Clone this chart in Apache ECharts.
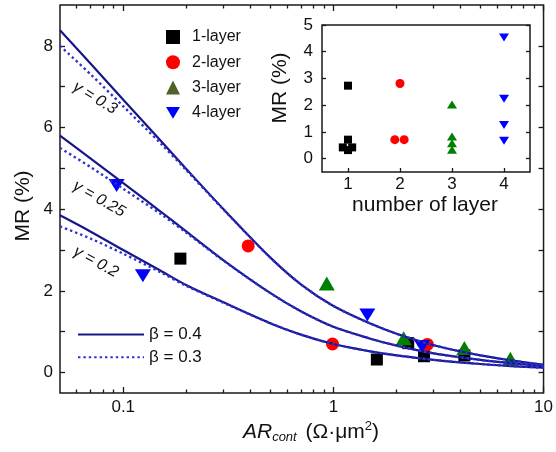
<!DOCTYPE html>
<html><head><meta charset="utf-8">
<script src="https://cdn.jsdelivr.net/npm/echarts@6/dist/echarts.min.js"></script>
<style>html,body{margin:0;padding:0;background:#fff}#c{width:556px;height:452px}</style>
</head><body><div id="c"></div>
<script>
// ---- curve data ----
const curveX   = [0.05,0.07,0.1,0.15,0.2,0.3,0.5,0.7,1,1.5,2,3,5,7,10];
const g03_b04  = [8.38,7.56,6.68,5.69,4.98,4.00,2.82,2.16,1.63,1.20,0.95,0.67,0.42,0.30,0.19];
const g03_b03  = [8.00,7.30,6.52,5.62,4.95,3.99,2.82,2.16,1.63,1.20,0.95,0.67,0.42,0.30,0.19];
const g025_b04 = [5.80,5.24,4.64,3.95,3.45,2.75,1.95,1.50,1.12,0.83,0.66,0.47,0.31,0.23,0.16];
const g025_b03 = [5.50,5.03,4.50,3.89,3.42,2.74,1.95,1.50,1.12,0.83,0.66,0.47,0.31,0.23,0.16];
const g02_b04  = [3.85,3.45,3.00,2.50,2.14,1.72,1.21,0.93,0.70,0.52,0.42,0.31,0.21,0.16,0.12];
const g02_b03  = [3.58,3.28,2.91,2.46,2.12,1.71,1.21,0.93,0.70,0.52,0.42,0.31,0.21,0.16,0.12];

// ---- main scatter data ----
const l1X = [0.187,1.61,2.27,2.70,4.2];   const l1Y = [2.79,0.32,0.72,0.40,0.42];
const l2X = [0.393,0.99,2.80];            const l2Y = [3.10,0.70,0.69];
const l3X = [0.93,2.16,4.2,6.95];         const l3Y = [2.18,0.84,0.60,0.34];
const l4X = [0.093,0.124,1.45,2.64];      const l4Y = [4.58,2.37,1.41,0.64];

// ---- inset data ----
const i1X = [1,1,0.9,1.08,1.0];   const i1Y = [2.73,0.71,0.42,0.42,0.32];
const i2X = [2.0,1.9,2.08];       const i2Y = [2.81,0.71,0.71];
const i3X = [3,3,3,3];            const i3Y = [2.03,0.83,0.58,0.33];
const i4X = [4,4,4,4];            const i4Y = [4.53,2.24,1.26,0.67];

// ---- ticks / labels ----
const xMajor = [0.1,1,10];
const xMajorLabels = ['0.1','1','10'];
const xMinor = [0.06,0.07,0.08,0.09,0.2,0.3,0.4,0.5,0.6,0.7,0.8,0.9,2,3,4,5,6,7,8,9];
const yTicks = [0,1,2,3,4,5,6,7,8];
const yLabels = [0,2,4,6,8];
const insetXTicks = [1,2,3,4];
const insetYTicks = [0,1,2,3,4,5];
const layerNames = ['1-layer','2-layer','3-layer','4-layer'];

const FONT = 'Liberation Sans, Arial, sans-serif';
const AX = '#1a1a1a';
const invTri = 'path://M0,0L20,0L10,17Z';
const zip = (xs, ys) => xs.map((x, i) => [x, ys[i]]);
const lg = v => Math.log10(v);

const chart = echarts.init(document.getElementById('c'), null, {renderer: 'canvas'});

function tickOnlyX(gridIndex, pos, ticks, len, labels) {
  return {
    type: 'value', gridIndex, position: pos, min: lg(0.05), max: 1,
    axisLine: {show: false, onZero: false},
    axisTick: {show: true, inside: true, length: len, customValues: ticks.map(lg), lineStyle: {color: AX, width: 1.3}},
    axisLabel: labels ? {show: true, customValues: ticks.map(lg), margin: 6, fontSize: 17, fontFamily: FONT, color: '#111',
      formatter: v => { const i = ticks.findIndex(t => Math.abs(lg(t) - v) < 1e-6); return i >= 0 ? labels[i] : ''; }} : {show: false},
    splitLine: {show: false}
  };
}

const solidStyle = {color: '#16168a', width: 2.2};
const dotStyle = {color: '#3030d0', width: 2.4, type: [2.4, 3]};
function curve(name, ys, style) {
  return {type: 'line', name, xAxisIndex: 0, yAxisIndex: 0, data: zip(curveX, ys), symbol: 'none', showSymbol: false,
    smooth: 0.3, lineStyle: style, itemStyle: {color: style.color}, z: 5, silent: true};
}
const sc = (name, xi, yi, xs, ys, symbol, size, color) => ({
  type: 'scatter', name, xAxisIndex: xi, yAxisIndex: yi, data: zip(xs, ys), symbol, symbolSize: size,
  itemStyle: {color, opacity: 1}, z: 2, silent: true
});

const option = {
  animation: false,
  backgroundColor: '#fff',
  textStyle: {fontFamily: FONT},
  grid: [
    {left: 60, right: 11, top: 5, bottom: 59, show: true, borderColor: AX, borderWidth: 1.5, backgroundColor: 'transparent'},
    {left: 322, right: 26, top: 25, bottom: 280, show: true, borderColor: AX, borderWidth: 1.5, backgroundColor: 'transparent'}
  ],
  xAxis: [
    {type: 'log', logBase: 10, gridIndex: 0, min: 0.05, max: 10, position: 'bottom',
      axisLine: {show: false, onZero: false}, axisTick: {show: false}, axisLabel: {show: false}, splitLine: {show: false}},
    tickOnlyX(0, 'bottom', xMajor, 6, xMajorLabels),
    tickOnlyX(0, 'bottom', xMinor, 3.5, null),
    tickOnlyX(0, 'top', xMajor, 6, null),
    tickOnlyX(0, 'top', xMinor, 3.5, null),
    {type: 'value', gridIndex: 1, min: 0.5, max: 4.5, position: 'bottom',
      axisLine: {show: false, onZero: false},
      axisTick: {inside: true, length: 4, customValues: insetXTicks, lineStyle: {color: AX, width: 1.3}},
      axisLabel: {customValues: insetXTicks, margin: 4, fontSize: 17, fontFamily: FONT, color: '#111'},
      splitLine: {show: false}}
  ],
  yAxis: [
    {type: 'value', gridIndex: 0, min: -0.5, max: 9, position: 'left',
      axisLine: {show: false, onZero: false},
      axisTick: {inside: true, length: 5, customValues: yTicks, lineStyle: {color: AX, width: 1.3}},
      axisLabel: {customValues: yLabels, margin: 7, fontSize: 17, fontFamily: FONT, color: '#111'},
      splitLine: {show: false}},
    {type: 'value', gridIndex: 0, min: -0.5, max: 9, position: 'right',
      axisLine: {show: false, onZero: false},
      axisTick: {inside: true, length: 5, customValues: yTicks, lineStyle: {color: AX, width: 1.3}},
      axisLabel: {show: false}, splitLine: {show: false}},
    {type: 'value', gridIndex: 1, min: -0.5, max: 5, position: 'left',
      axisLine: {show: false, onZero: false},
      axisTick: {inside: true, length: 4, customValues: insetYTicks, lineStyle: {color: AX, width: 1.3}},
      axisLabel: {customValues: insetYTicks, margin: 9, fontSize: 17, fontFamily: FONT, color: '#111'},
      splitLine: {show: false}},
    {type: 'value', gridIndex: 1, min: -0.5, max: 5, position: 'right',
      axisLine: {show: false, onZero: false},
      axisTick: {inside: true, length: 4, customValues: insetYTicks, lineStyle: {color: AX, width: 1.3}},
      axisLabel: {show: false}, splitLine: {show: false}}
  ],
  legend: [
    {orient: 'vertical', left: 166, top: 29, itemWidth: 14, itemHeight: 14, itemGap: 9.3, padding: 0,
      selectedMode: false,
      textStyle: {fontSize: 16, fontFamily: FONT, color: '#111', padding: [0, 0, 0, 7]},
      data: [
        {name: layerNames[0], icon: 'rect', itemStyle: {color: '#000', opacity: 1}},
        {name: layerNames[1], icon: 'circle', itemStyle: {color: '#ff0000', opacity: 1}},
        {name: layerNames[2], icon: 'triangle', itemStyle: {color: '#4f6228', opacity: 1}},
        {name: layerNames[3], icon: invTri, itemStyle: {color: '#0000ff', opacity: 1}}
      ]},
    {orient: 'vertical', left: 77, top: 326, itemWidth: 66, itemHeight: 14, itemGap: 5.7, padding: 0,
      selectedMode: false,
      textStyle: {fontSize: 17, fontFamily: FONT, color: '#111'},
      data: [{name: 'β = 0.4', itemStyle: {opacity: 0}}, {name: 'β = 0.3', itemStyle: {opacity: 0}}]}
  ],
  series: [
    sc(layerNames[0], 0, 0, l1X, l1Y, 'rect', 12, '#000'),
    sc(layerNames[1], 0, 0, l2X, l2Y, 'circle', 13, '#ff0000'),
    sc(layerNames[2], 0, 0, l3X, l3Y, 'triangle', [16, 14], '#008000'),
    sc(layerNames[3], 0, 0, l4X, l4Y, invTri, [16, 13], '#0000ff'),
    curve('β = 0.4', g03_b04, solidStyle),
    curve('β = 0.4', g025_b04, solidStyle),
    curve('β = 0.4', g02_b04, solidStyle),
    curve('β = 0.3', g03_b03, dotStyle),
    curve('β = 0.3', g025_b03, dotStyle),
    curve('β = 0.3', g02_b03, dotStyle),
    sc(layerNames[0], 5, 2, i1X, i1Y, 'rect', 8, '#000'),
    sc(layerNames[1], 5, 2, i2X, i2Y, 'circle', 9, '#ff0000'),
    sc(layerNames[2], 5, 2, i3X, i3Y, 'triangle', [10, 8], '#008000'),
    sc(layerNames[3], 5, 2, i4X, i4Y, invTri, [10, 8], '#0000ff')
  ],
  graphic: [
    {type: 'text', x: 23, y: 206, rotation: Math.PI / 2,
      style: {text: 'MR (%)', fontSize: 21, fontFamily: FONT, fill: '#111', align: 'center', verticalAlign: 'middle'}},
    {type: 'text', x: 280, y: 88, rotation: Math.PI / 2,
      style: {text: 'MR (%)', fontSize: 21, fontFamily: FONT, fill: '#111', align: 'center', verticalAlign: 'middle'}},
    {type: 'text', x: 425, y: 205,
      style: {text: 'number of layer', fontSize: 21, fontFamily: FONT, fill: '#111', align: 'center', verticalAlign: 'middle'}},
    {type: 'text', x: 311, y: 432,
      style: {
        text: '{i|AR}{s|cont}{n| (Ω·μm}{p|2}{n|)}',
        align: 'center', verticalAlign: 'middle', fontFamily: FONT, fill: '#111',
        rich: {
          i: {fontSize: 21, fontStyle: 'italic', fontFamily: FONT, fill: '#111', lineHeight: 24, verticalAlign: 'middle'},
          n: {fontSize: 21, fontFamily: FONT, fill: '#111', lineHeight: 24, verticalAlign: 'middle'},
          s: {fontSize: 13, fontStyle: 'italic', fontFamily: FONT, fill: '#111', lineHeight: 13, verticalAlign: 'bottom', padding: [0, 3, 0, 0]},
          p: {fontSize: 13, fontFamily: FONT, fill: '#111', lineHeight: 13, verticalAlign: 'top'}
        }
      }},
    {type: 'text', x: 95, y: 98, rotation: -0.55,
      style: {text: 'γ = 0.3', fontSize: 16, fontStyle: 'italic', fontFamily: FONT, fill: '#111', align: 'center', verticalAlign: 'middle'}},
    {type: 'text', x: 99, y: 199, rotation: -0.52,
      style: {text: 'γ = 0.25', fontSize: 16, fontStyle: 'italic', fontFamily: FONT, fill: '#111', align: 'center', verticalAlign: 'middle'}},
    {type: 'text', x: 96, y: 262, rotation: -0.5,
      style: {text: 'γ = 0.2', fontSize: 16, fontStyle: 'italic', fontFamily: FONT, fill: '#111', align: 'center', verticalAlign: 'middle'}}
  ]
};
chart.setOption(option);
</script>
</body></html>
